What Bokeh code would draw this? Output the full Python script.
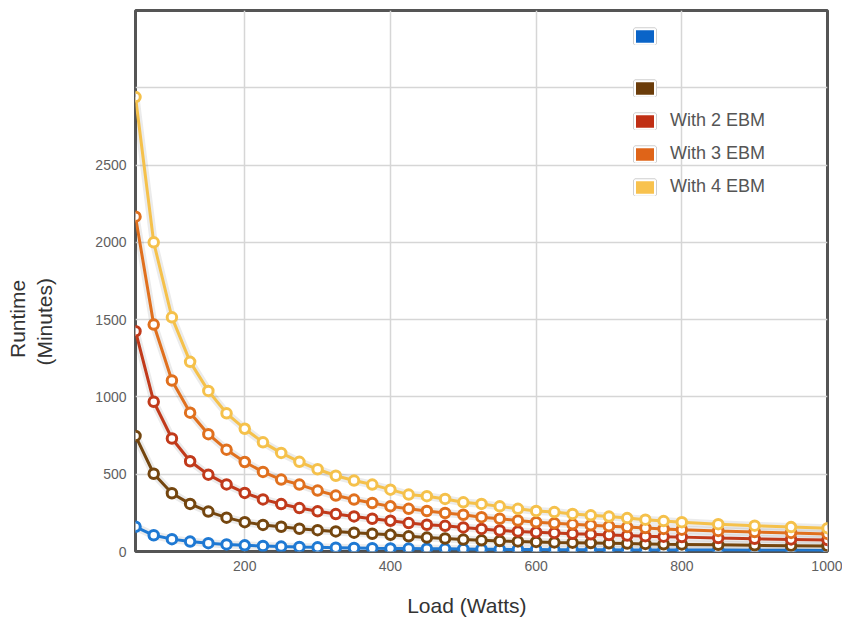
from bokeh.plotting import figure
from bokeh.models import (Range1d, FixedTicker, Legend, LegendItem, ColumnDataSource,
                          LinearAxis)
from bokeh.embed import file_html
from bokeh.resources import INLINE

# ---- data ----
loads = [50, 75, 100, 125, 150, 175, 200, 225, 250, 275, 300, 325, 350, 375, 400,
         425, 450, 475, 500, 525, 550, 575, 600, 625, 650, 675, 700, 725, 750, 775,
         800, 850, 900, 950, 1000]

internal = [160, 105, 80, 64, 54, 46, 40, 36, 32, 29, 27, 25, 23, 21, 20,
            19, 18, 17, 16, 15, 14, 13, 13, 12, 12, 11, 11, 10, 10, 10,
            9, 9, 8, 8, 7]
with_1_ebm = [748, 503, 377, 308, 258, 219, 190, 172, 160, 147, 138, 130, 122, 115, 108,
              98, 90, 84, 77, 72, 68, 65, 62, 59, 57, 55, 53, 51, 49, 47,
              46, 43, 40, 38, 36]
with_2_ebm = [1425, 969, 731, 584, 497, 434, 379, 337, 307, 281, 260, 242, 227, 212, 199,
              184, 173, 166, 156, 146, 136, 130, 125, 120, 115, 111, 107, 103, 99, 96,
              93, 87, 82, 78, 74]
with_3_ebm = [2166, 1468, 1106, 898, 759, 659, 579, 515, 465, 433, 394, 362, 336, 314, 292,
              276, 262, 249, 238, 222, 212, 200, 190, 183, 176, 170, 164, 158, 152, 146,
              141, 133, 126, 120, 114]
with_4_ebm = [2940, 2000, 1515, 1227, 1039, 894, 794, 706, 638, 580, 532, 490, 459, 433, 400,
              368, 358, 340, 318, 308, 292, 276, 262, 255, 243, 234, 226, 216, 206, 197,
              190, 177, 167, 158, 151]

series_labels = ["", "", "With 2 EBM", "With 3 EBM", "With 4 EBM"]
x_ticks = [200, 400, 600, 800, 1000]
y_ticks = [0, 500, 1000, 1500, 2000, 2500]
y_grid = [500, 1000, 1500, 2000, 2500, 3000]
x_grid = [200, 400, 600, 800]
x_title = "Load (Watts)"
y_title = ["Runtime", "(Minutes)"]

line_colors = ["#1f79d3", "#74460f", "#c13a1b", "#e0701e", "#f5c14b"]
swatch_colors = ["#0a64c8", "#6b3c0a", "#c02f14", "#df6418", "#f8c24e"]

FONT = "Liberation Sans"
NB = "\u00a0"  # non-breaking space, used to shift a centred title off-centre

W, H = 842, 620
p = figure(width=W, height=H, x_range=Range1d(50, 1000), y_range=Range1d(0, 3500),
           output_backend="svg", toolbar_location=None,
           min_border_left=135, min_border_right=15, min_border_top=10, min_border_bottom=69)

p.outline_line_color = "#555555"
p.outline_line_width = 3
p.background_fill_color = "white"
p.border_fill_color = "white"

for ax in (p.xaxis[0], p.yaxis[0]):
    ax.axis_line_color = None
    ax.major_tick_line_color = None
    ax.minor_tick_line_color = None
    ax.major_tick_out = 0
    ax.major_tick_in = 0
    ax.major_label_text_font = FONT
    ax.major_label_text_font_size = "14px"
    ax.major_label_text_color = "#606060"
    ax.major_label_standoff = 9
    ax.axis_label_text_font = FONT
    ax.axis_label_text_font_size = "21px"
    ax.axis_label_text_font_style = "normal"
    ax.axis_label_text_color = "#333333"

p.xaxis.ticker = FixedTicker(ticks=x_ticks)
p.yaxis.ticker = FixedTicker(ticks=y_ticks)
p.xgrid.ticker = FixedTicker(ticks=x_grid)
p.ygrid.ticker = FixedTicker(ticks=y_grid)
for g in (p.xgrid[0], p.ygrid[0]):
    g.grid_line_color = "#d6d6d6"
    g.grid_line_width = 1.5

# axis titles
p.xaxis.axis_label = x_title + NB * 5
p.xaxis.axis_label_standoff = 20
p.yaxis.axis_label = y_title[1] + NB * 14
p.yaxis.axis_label_standoff = 36

outer = LinearAxis(ticker=FixedTicker(ticks=[]), axis_label=y_title[0] + NB * 13,
                   axis_line_color=None, major_tick_line_color=None,
                   minor_tick_line_color=None, major_tick_out=0, major_tick_in=0,
                   major_label_standoff=0, axis_label_standoff=2,
                   axis_label_text_font=FONT, axis_label_text_font_size="21px",
                   axis_label_text_font_style="normal", axis_label_text_color="#333333")
p.add_layout(outer, "left")

all_series = [internal, with_1_ebm, with_2_ebm, with_3_ebm, with_4_ebm]

legend_renderers = []
for vals, lc, sc in zip(all_series, line_colors, swatch_colors):
    src = ColumnDataSource(dict(x=loads, y=vals))
    p.line("x", "y", source=src, line_color="#000000", line_alpha=0.08, line_width=8)
    p.line("x", "y", source=src, line_color=lc, line_width=3)
    p.scatter("x", "y", source=src, size=9.5, marker="circle", fill_color="white",
              line_color=lc, line_width=3)
    # legend swatch renderers (hidden in the plot, shown only in the legend)
    r_out = p.rect("x", "y", width=1, height=1, source=src, fill_color="#cfcfcf",
                   line_color="#cfcfcf", line_width=4, visible=False)
    r_in = p.rect("x", "y", width=1, height=1, source=src, fill_color=sc,
                  line_color="white", line_width=2, visible=False)
    legend_renderers.append([r_out, r_in])

def make_legend(idx, loc):
    items = [LegendItem(label=series_labels[i], renderers=legend_renderers[i]) for i in idx]
    lg = Legend(items=items, location=loc, orientation="vertical",
                glyph_width=25, glyph_height=18, label_standoff=13,
                label_text_font=FONT, label_text_font_size="18px",
                label_text_color="#555555", label_height=20, spacing=12,
                padding=0, margin=0, border_line_color=None,
                background_fill_alpha=0, click_policy="none")
    p.add_layout(lg)

make_legend([0], (497, 505))
make_legend([1, 2, 3, 4], (497, 354))

open("out.html", "w").write(file_html(p, INLINE))
